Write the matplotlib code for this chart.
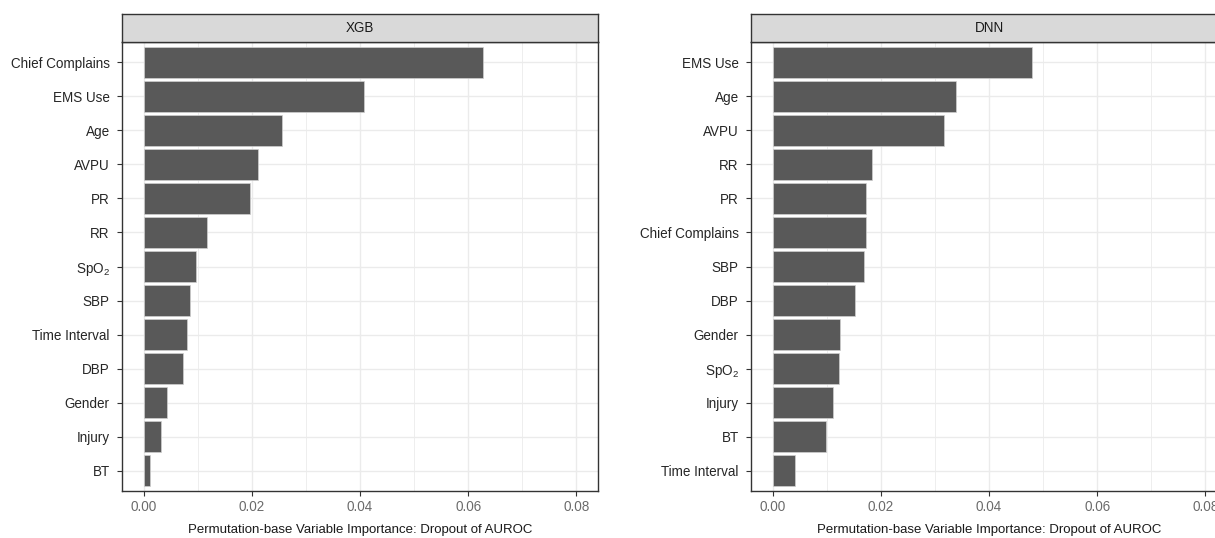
import numpy as np
import matplotlib
matplotlib.use("Agg")
import matplotlib.pyplot as plt

plt.rcParams['font.family'] = ['Liberation Sans', 'DejaVu Sans']
plt.rcParams['mathtext.fontset'] = 'custom'
plt.rcParams['mathtext.rm'] = 'Liberation Sans'
plt.rcParams['mathtext.it'] = 'Liberation Sans'

# --- data (dropout of AUROC) ---
xgb_vars = ['Chief Complains', 'EMS Use', 'Age', 'AVPU', 'PR', 'RR', r'SpO$_2$',
            'SBP', 'Time Interval', 'DBP', 'Gender', 'Injury', 'BT']
xgb_vals = [0.0628, 0.0407, 0.0256, 0.0211, 0.0197, 0.0118, 0.0097,
            0.0085, 0.0081, 0.0072, 0.0044, 0.0033, 0.0011]

dnn_vars = ['EMS Use', 'Age', 'AVPU', 'RR', 'PR', 'Chief Complains', 'SBP',
            'DBP', 'Gender', r'SpO$_2$', 'Injury', 'BT', 'Time Interval']
dnn_vals = [0.0479, 0.0339, 0.0317, 0.0184, 0.0172, 0.0172, 0.0168,
            0.0152, 0.0125, 0.0123, 0.0112, 0.0099, 0.0041]

panels = [('XGB', xgb_vars, xgb_vals), ('DNN', dnn_vars, dnn_vals)]
xticks = [0.00, 0.02, 0.04, 0.06, 0.08]
xlabel = 'Permutation-base Variable Importance: Dropout of AUROC'

W, H = 1215, 538
fig = plt.figure(figsize=(W / 100, H / 100), dpi=100)

frame_col = '#333333'
grid_col = '#EBEBEB'
fs = 9.75

lefts = [122, 751]
for (name, labels, vals), lpx in zip(panels, lefts):
    ax = fig.add_axes([lpx / W, 1 - 491 / H, 476 / W, 449 / H])
    n = len(labels)
    y = np.arange(n)
    ax.barh(y, vals, height=0.9, color='#595959', edgecolor='#d0d0d0',
            linewidth=0.5, zorder=3)
    ax.set_xlim(-0.004, 0.084)
    ax.set_ylim(n - 0.4, -0.6)
    ax.set_yticks(y)
    ax.set_yticklabels(labels)
    ax.set_xticks(xticks)
    ax.set_xticklabels([f'{t:.2f}' for t in xticks])
    ax.set_xticks([0.01, 0.03, 0.05, 0.07], minor=True)
    ax.grid(True, which='major', color=grid_col, lw=1.0, zorder=0)
    ax.grid(True, which='minor', axis='x', color=grid_col, lw=0.6, zorder=0)
    ax.tick_params(axis='both', which='major', length=3.8, width=0.8,
                   color=frame_col, labelsize=fs, pad=3)
    ax.tick_params(axis='y', labelcolor='#262626', pad=5)
    ax.tick_params(axis='x', labelcolor='#6b6b6b')
    ax.tick_params(which='minor', length=0)
    for s in ax.spines.values():
        s.set_color(frame_col)
        s.set_linewidth(1.0)
    ax.set_xlabel(xlabel, fontsize=9.5, color='#1a1a1a', labelpad=7)

    # facet strip
    sax = fig.add_axes([lpx / W, 1 - 42 / H, 476 / W, 28 / H])
    sax.set_facecolor('#D9D9D9')
    sax.set_xticks([])
    sax.set_yticks([])
    for s in sax.spines.values():
        s.set_color(frame_col)
        s.set_linewidth(1.0)
    sax.text(0.5, 0.5, name, ha='center', va='center', fontsize=fs,
             color='#1a1a1a', transform=sax.transAxes)

fig.savefig('out.png', dpi=100)
